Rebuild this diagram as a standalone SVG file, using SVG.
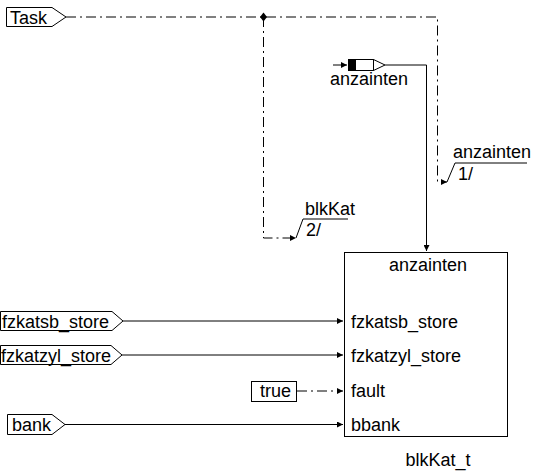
<svg xmlns="http://www.w3.org/2000/svg" width="534" height="472" viewBox="0 0 534 472">
<style>
text{font-family:"Liberation Sans",Arial,sans-serif;font-size:18px;fill:#000}
.ln{fill:none;stroke:#000;stroke-width:1}
.dd{fill:none;stroke:#000;stroke-width:1;stroke-dasharray:10,4,2,4}
.box{fill:#fff;stroke:#000;stroke-width:1}
.mid{text-anchor:middle}
</style>
<defs>
<marker id="ah" markerWidth="6" markerHeight="6" refX="6" refY="3" orient="auto" markerUnits="userSpaceOnUse">
<path d="M0,0 L6,3 L0,6 Z" fill="#000"/>
</marker>
</defs>
<g id="connectors">
<path class="dd" d="M66,17 H437.5 V182 H447" marker-end="url(#ah)"/>
<path class="dd" d="M263.5,17 V238 H296" marker-end="url(#ah)"/>
<path class="ln" d="M296,238 L303,219 H348"/>
<path class="ln" d="M447,182 L455,163 H527"/>
<path class="ln" d="M385,65 H426.5 V251" marker-end="url(#ah)"/>
<path class="ln" d="M123,321 H343" marker-end="url(#ah)"/>
<path class="ln" d="M122,355 H343" marker-end="url(#ah)"/>
<path class="dd" d="M297,391 H343" marker-end="url(#ah)"/>
<path class="ln" d="M65,424.5 H343" marker-end="url(#ah)"/>
<path d="M263.5,12.5 L267,17 L263.5,21.5 L260,17 Z" fill="#000"/>
</g>
<g id="Task">
<polygon class="box" points="6.5,7.5 52,7.5 66,17 52,26.5 6.5,26.5"/>
<text x="10" y="24">Task</text>
</g>
<g id="anzainten_in">
<path class="ln" d="M333,65 H347" marker-end="url(#ah)"/>
<rect x="348.5" y="59.5" width="7" height="11" fill="#000" stroke="#000"/>
<rect x="355.5" y="59.5" width="18" height="11" class="box"/>
<polygon class="box" points="373.5,59.5 385,65 373.5,70.5"/>
<text class="mid" x="369" y="85">anzainten</text>
</g>
<g id="label_blkKat">
<text x="305" y="215">blkKat</text>
<text x="306" y="236">2/</text>
</g>
<g id="label_anzainten">
<text x="453" y="158">anzainten</text>
<text x="458" y="180">1/</text>
</g>
<g id="block">
<rect class="box" x="344.5" y="252.5" width="163" height="184"/>
<text class="mid" x="428" y="271">anzainten</text>
<text x="351" y="328">fzkatsb_store</text>
<text x="351" y="362">fzkatzyl_store</text>
<text x="351" y="397">fault</text>
<text x="351" y="431">bbank</text>
<text class="mid" x="438" y="466">blkKat_t</text>
</g>
<g id="fzkatsb_store">
<polygon class="box" points="0.5,311.5 112,311.5 123,321 112,330.5 0.5,330.5"/>
<text x="2" y="328">fzkatsb_store</text>
</g>
<g id="fzkatzyl_store">
<polygon class="box" points="0.5,345.5 111,345.5 122,355 111,364.5 0.5,364.5"/>
<text x="1" y="362">fzkatzyl_store</text>
</g>
<g id="true">
<rect class="box" x="251.5" y="381.5" width="45" height="20"/>
<text x="260" y="397">true</text>
</g>
<g id="bank">
<polygon class="box" points="7.5,414.5 52,414.5 65,424.5 52,434.5 7.5,434.5"/>
<text x="12" y="431">bank</text>
</g>
</svg>
